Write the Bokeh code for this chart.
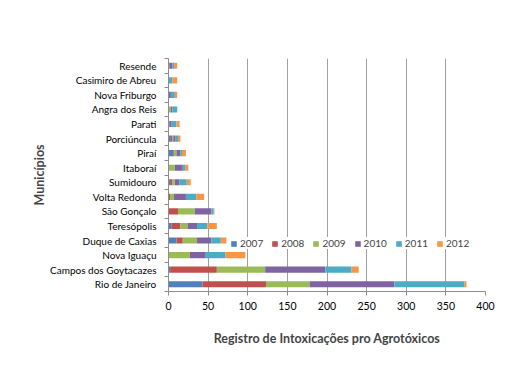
from bokeh.plotting import figure
from bokeh.models import FixedTicker, Legend, LegendItem, Range1d, ColumnDataSource
from bokeh.embed import file_html
from bokeh.resources import INLINE

municipios = ["Rio de Janeiro", "Campos dos Goytacazes", "Nova Iguaçu", "Duque de Caxias",
              "Teresópolis", "São Gonçalo", "Volta Redonda", "Sumidouro", "Itaboraí",
              "Piraí", "Porciúncula", "Parati", "Angra dos Reis", "Nova Friburgo",
              "Casimiro de Abreu", "Resende"]
anos = ["2007", "2008", "2009", "2010", "2011", "2012"]
v2007 = [43, 2, 0, 10, 4, 0, 0, 2, 0, 6, 3, 0, 0, 0, 0, 0]
v2008 = [80, 59, 0, 8, 11, 12, 2, 3, 0, 1, 2, 0, 0, 0, 0, 0]
v2009 = [55, 61, 27, 18, 9, 21, 5, 3, 8, 3, 1, 1, 3, 0, 0, 1]
v2010 = [107, 76, 20, 18, 12, 21, 15, 6, 10, 5, 3, 3, 2, 3, 0, 4]
v2011 = [88, 33, 25, 12, 13, 3, 13, 9, 3, 2, 3, 6, 6, 5, 5, 2]
v2012 = [3, 9, 25, 7, 12, 1, 10, 5, 4, 5, 3, 4, 0, 3, 6, 4]
cores = ["#4F81BD", "#C0504D", "#9BBB59", "#8064A2", "#4BACC6", "#F79646"]

ypos = list(range(len(municipios)))
src = ColumnDataSource(dict(y=ypos, **{a: v for a, v in zip(anos, [v2007, v2008, v2009, v2010, v2011, v2012])}))

FONT = "Lato"
p = figure(width=516, height=372, output_backend="svg", toolbar_location=None,
           x_range=Range1d(0, 400), y_range=Range1d(-0.5, len(municipios) - 0.5),
           min_border_left=168, min_border_right=31, min_border_top=58, min_border_bottom=81)
p.outline_line_color = None

renderers = p.hbar_stack(anos, y="y", height=0.42, color=cores, source=src, line_color=None)

# x axis
p.xaxis.ticker = FixedTicker(ticks=list(range(0, 401, 50)))
p.xaxis.axis_line_color = "#8c8c8c"
p.xaxis.major_tick_line_color = "#8c8c8c"
p.xaxis.major_tick_out = 4
p.xaxis.major_tick_in = 0
p.xaxis.minor_tick_line_color = None
p.xaxis.major_label_text_font = FONT
p.xaxis.major_label_text_font_size = "10.5px"
p.xaxis.major_label_text_color = "#000000"
p.xaxis.major_label_standoff = 6
p.xaxis.axis_label = "Registro de Intoxicações pro Agrotóxicos"
p.xaxis.axis_label_text_font = FONT
p.xaxis.axis_label_text_font_style = "bold"
p.xaxis.axis_label_text_font_size = "12.5px"
p.xaxis.axis_label_standoff = 18

# y axis
p.yaxis.ticker = FixedTicker(ticks=ypos, minor_ticks=[i - 0.5 for i in range(len(municipios) + 1)])
p.yaxis.major_label_overrides = {i: m for i, m in enumerate(municipios)}
p.yaxis.axis_line_color = "#8c8c8c"
p.yaxis.major_tick_line_color = None
p.yaxis.minor_tick_line_color = "#8c8c8c"
p.yaxis.minor_tick_out = 4
p.yaxis.minor_tick_in = 0
p.yaxis.major_label_text_font = FONT
p.yaxis.major_label_text_font_size = "10px"
p.yaxis.major_label_text_color = "#000000"
p.yaxis.major_label_standoff = 6
p.yaxis.axis_label = "Municípios"
p.yaxis.axis_label_text_font = FONT
p.yaxis.axis_label_text_font_style = "bold"
p.yaxis.axis_label_text_font_size = "12.5px"
p.yaxis.axis_label_standoff = 0

p.xgrid.grid_line_color = "#a0a0a0"
p.xgrid.ticker = FixedTicker(ticks=list(range(50, 401, 50)))
p.ygrid.grid_line_color = None

legend = Legend(items=[LegendItem(label=a, renderers=[r]) for a, r in zip(anos, renderers)],
                orientation="horizontal", location=(62, 42), padding=2, margin=0,
                spacing=8, glyph_width=7, glyph_height=7, label_standoff=3,
                label_text_font=FONT, label_text_font_size="10px",
                label_height=10, border_line_color=None,
                background_fill_color="#ffffff", background_fill_alpha=1.0)
p.add_layout(legend, "center")

open("out.html", "w").write(file_html(p, INLINE))
